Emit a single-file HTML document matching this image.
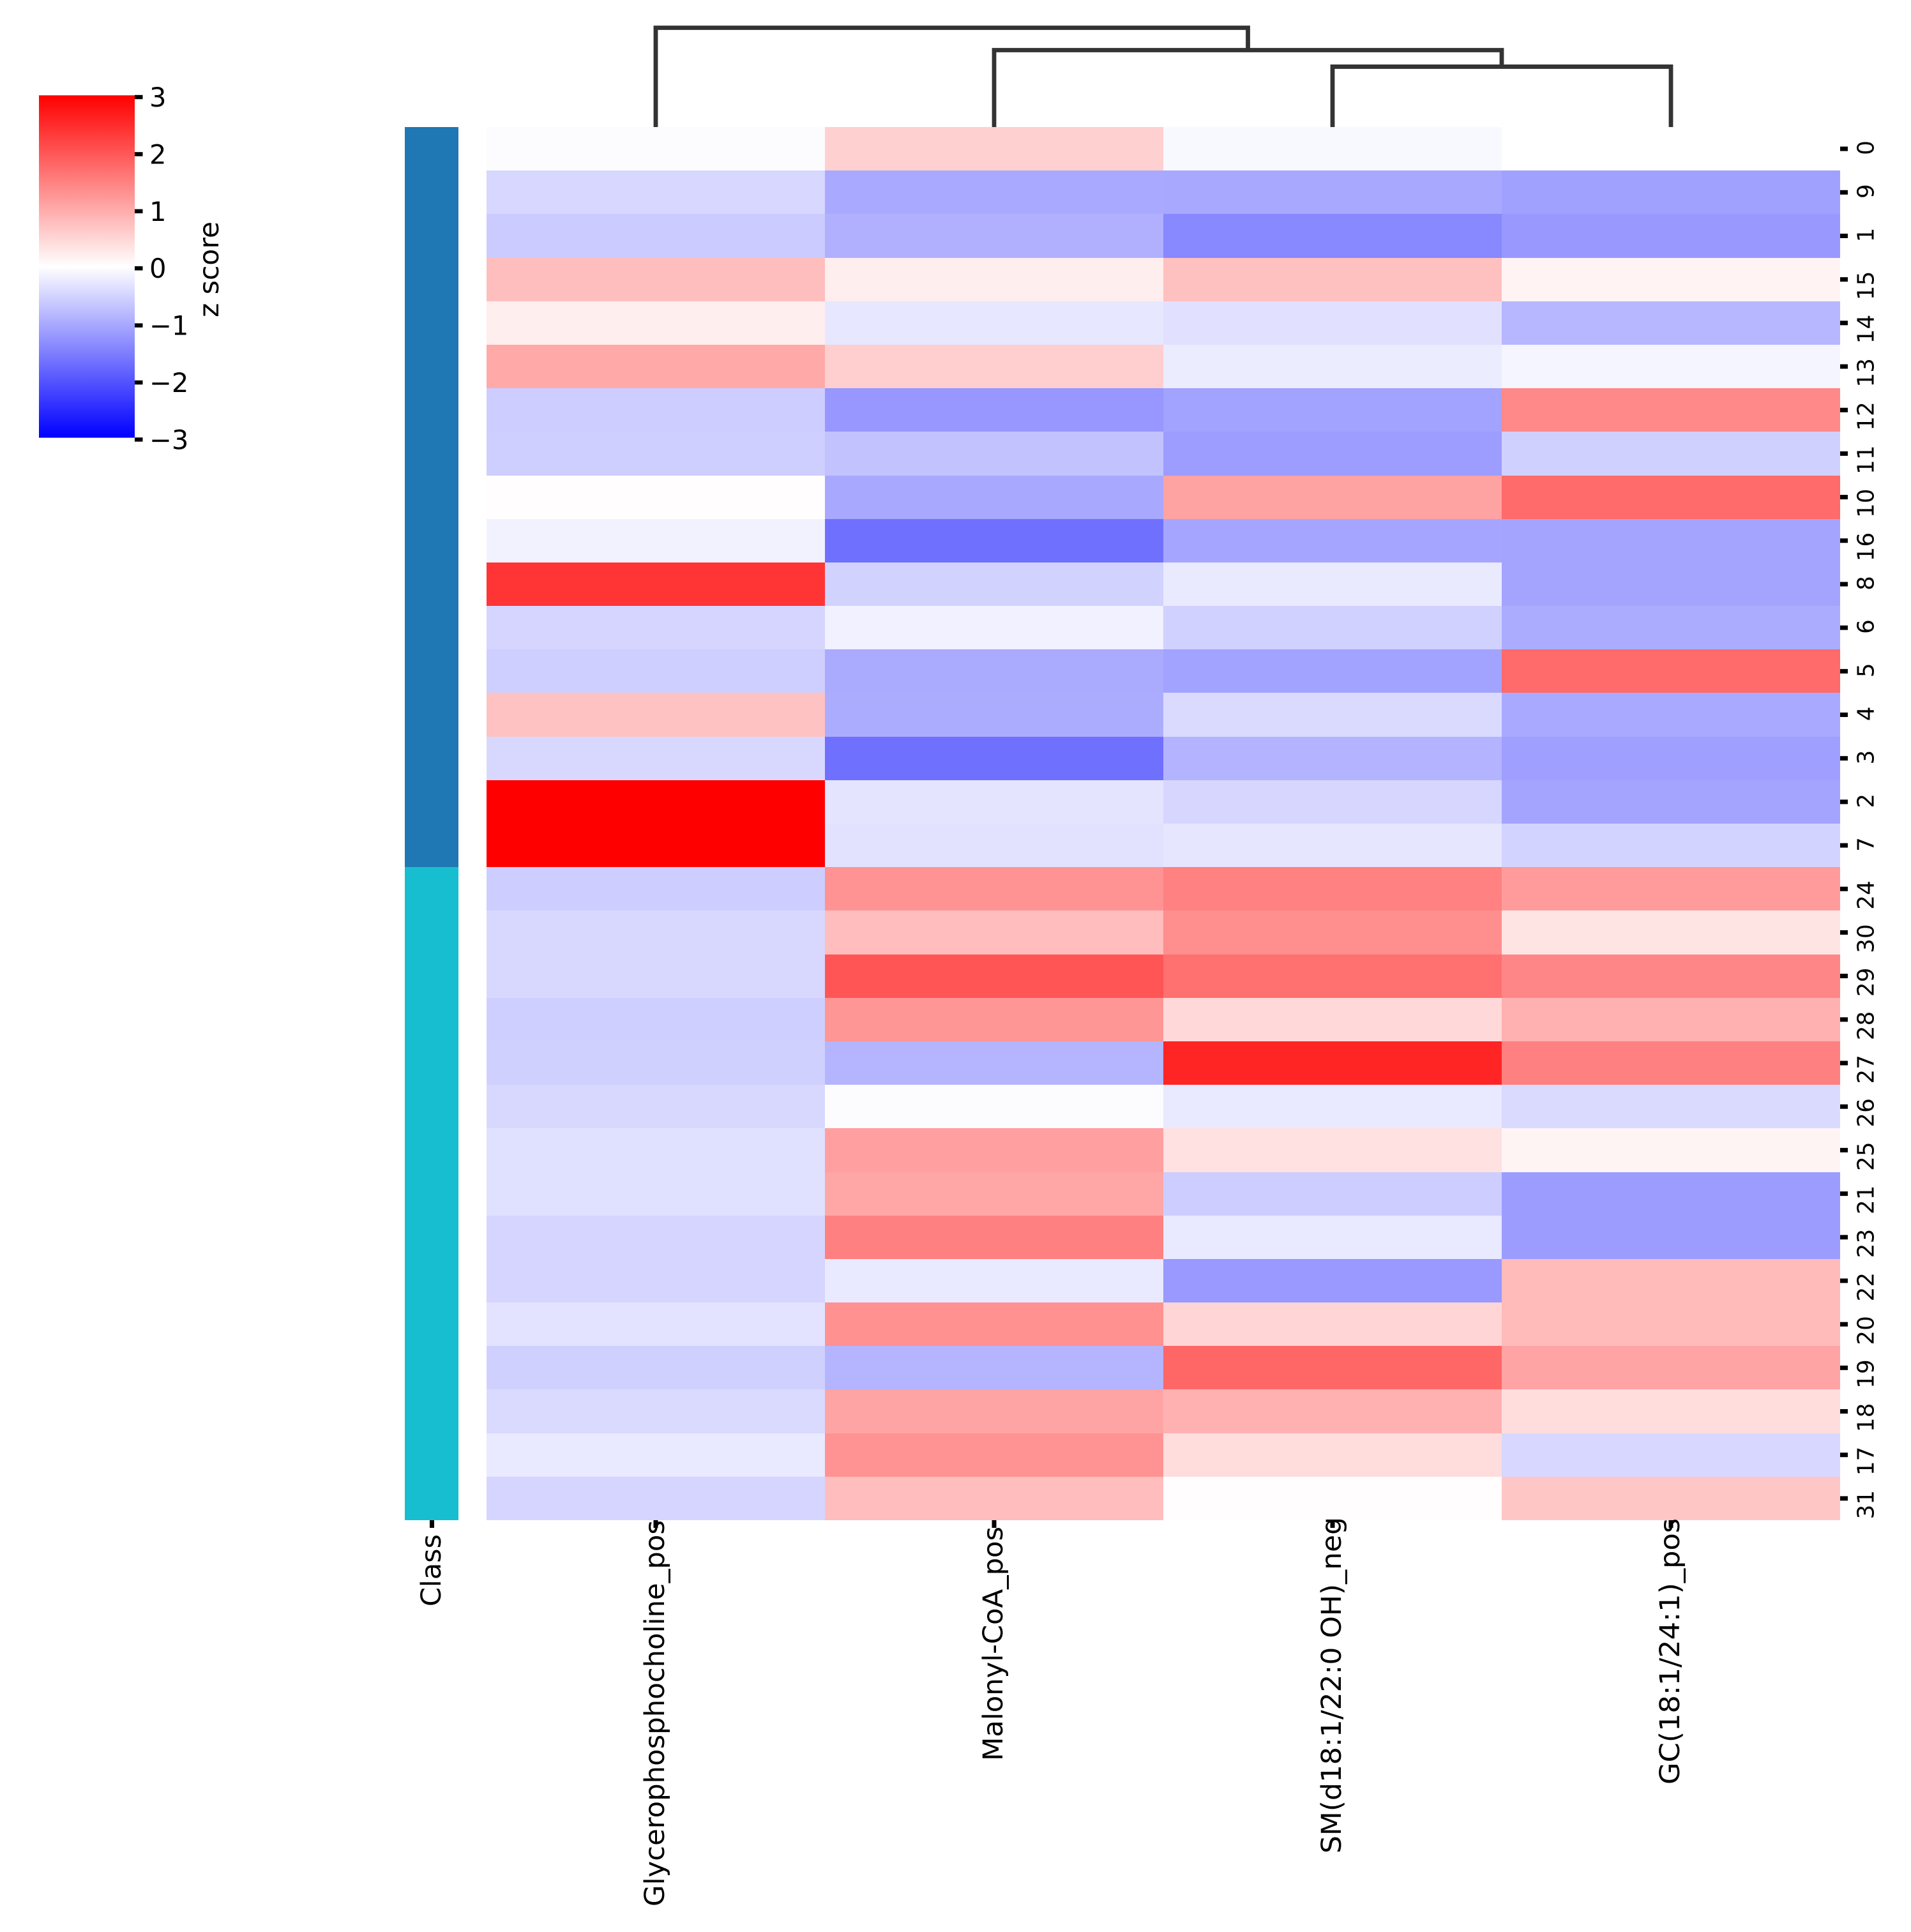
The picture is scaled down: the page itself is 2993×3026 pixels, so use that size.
<!DOCTYPE html>
<html lang="en">
<head>
<meta charset="utf-8">
<title>Clustered heatmap of z scores</title>
<style>
html,body{margin:0;padding:0;background:#fff;}
svg{display:block;}
text{font-family:"DejaVu Sans","Liberation Sans",sans-serif;fill:#000;}
</style>
</head>
<body>
<svg id="chart" xmlns="http://www.w3.org/2000/svg" width="2993" height="3026" viewBox="0 0 2993 3026">
<defs>
<linearGradient id="bwr" x1="0" y1="0" x2="0" y2="1">
<stop offset="0" stop-color="#ff0000"/>
<stop offset="0.5" stop-color="#ffffff"/>
<stop offset="1" stop-color="#0000ff"/>
</linearGradient>
</defs>
</svg>
<script>
const rowLabels = ["0","9","1","15","14","13","12","11","10","16","8","6","5","4","3","2","7","24","30","29","28","27","26","25","21","23","22","20","19","18","17","31"];
const columnLabels = ["Glycerophosphocholine_pos","Malonyl-CoA_pos","SM(d18:1/22:0 OH)_neg","GC(18:1/24:1)_pos"];
const classValues = [0,0,0,0,0,0,0,0,0,0,0,0,0,0,0,0,0,1,1,1,1,1,1,1,1,1,1,1,1,1,1,1];
const classColors = ["#1f77b4","#17becf"];
const glyceroValues = [-0.04,-0.47,-0.61,0.76,0.2,1.01,-0.59,-0.58,0.02,-0.15,2.38,-0.49,-0.58,0.72,-0.46,3,3,-0.59,-0.46,-0.46,-0.56,-0.55,-0.46,-0.36,-0.36,-0.5,-0.5,-0.33,-0.55,-0.44,-0.26,-0.5];
const malonylValues = [0.55,-1.01,-0.93,0.2,-0.28,0.58,-1.22,-0.72,-1.02,-1.68,-0.53,-0.17,-1.0,-0.98,-1.68,-0.32,-0.34,1.27,0.78,2.0,1.24,-0.88,-0.04,1.13,1.05,1.5,-0.26,1.3,-0.88,1.07,1.27,0.78];
const smValues = [-0.08,-1.02,-1.4,0.74,-0.35,-0.22,-1.09,-1.15,1.09,-1.06,-0.25,-0.54,-1.1,-0.44,-0.89,-0.48,-0.3,1.48,1.33,1.68,0.45,2.56,-0.26,0.35,-0.59,-0.26,-1.2,0.5,1.8,0.92,0.4,0.02];
const gcValues = [0.0,-1.12,-1.21,0.14,-0.85,-0.12,1.4,-0.55,1.75,-1.07,-1.07,-0.98,1.75,-1.01,-1.13,-1.07,-0.52,1.18,0.32,1.42,0.93,1.5,-0.44,0.13,-1.17,-1.17,0.81,0.81,1.07,0.4,-0.47,0.67];
const colorbarTicks = [3,2,1,0,-1,-2,-3];
const dendrogramHeights = [0.608,0.775,1.0];

const series = [glyceroValues, malonylValues, smValues, gcValues];
const svg = document.getElementById('chart');
const NS = 'http://www.w3.org/2000/svg';

const plot = {left:762, right:2882, top:199, bottom:2381};
const vmin = -3, vmax = 3;
const colW = (plot.right - plot.left) / columnLabels.length;
const rowH = (plot.bottom - plot.top) / rowLabels.length;
const xEdge = function(c){ return Math.round(plot.left + c * colW); };
const xCenter = function(c){ return plot.left + (c + 0.5) * colW; };
const yEdge = function(r){ return Math.round(plot.top + r * rowH); };
const yCenter = function(r){ return plot.top + (r + 0.5) * rowH; };
const cbarY = function(v){ return 420.2 - v * 89.4; };
const dendY = function(h){ return plot.top - h * 155.5; };
const columnLabelEnds = [2381,2391,2376,2378];
const columnLabelLengths = [605,367,527,417];

function cellColor(v){
  const t = Math.max(vmin, Math.min(vmax, v));
  if (t >= 0) {
    const g = Math.round(255 * (1 - t / vmax));
    return 'rgb(255,' + g + ',' + g + ')';
  }
  const b = Math.round(255 * (1 - t / vmin));
  return 'rgb(' + b + ',' + b + ',255)';
}
function el(tag, attrs, parent){
  const e = document.createElementNS(NS, tag);
  for (const k in attrs) e.setAttribute(k, attrs[k]);
  (parent || svg).appendChild(e);
  return e;
}
function group(name){
  const g = el('g', {});
  
  
  return g;
}

/* heatmap cells */
const heatmap = group('heatmap-cells');
series.forEach(function(values, c){
  values.forEach(function(v, r){
    const cell = el('rect', {x:xEdge(c), y:yEdge(r), width:xEdge(c+1)-xEdge(c), height:yEdge(r+1)-yEdge(r), fill:cellColor(v), 'shape-rendering':'crispEdges'}, heatmap);
    
    
  });
});

/* class colour bar */
const classBar = group('class-color-bar');
classValues.forEach(function(k, r){
  const cell = el('rect', {x:634, y:yEdge(r), width:84, height:yEdge(r+1)-yEdge(r), fill:classColors[k], 'shape-rendering':'crispEdges'}, classBar);
  
  
});
const classTick = el('rect', {x:673, y:plot.bottom, width:7, height:12, fill:'#000'}, classBar);


const classLabel = el('text', {transform:'translate(690,2403) rotate(-90)', 'text-anchor':'end', 'font-size':43}, classBar);
classLabel.textContent = 'Class';



/* row ticks and labels */
const rowAxis = group('row-axis');
rowLabels.forEach(function(label, r){
  const y = yCenter(r);
  const tick = el('rect', {x:plot.right, y:y-3.5, width:12, height:7, fill:'#000'}, rowAxis);
  
  
  const t = el('text', {transform:'translate(2934.5,' + (y-13) + ') rotate(-90)', 'text-anchor':'end', 'font-size':35.7}, rowAxis);
  t.textContent = label;
  
  
});

/* column ticks and labels */
const columnAxis = group('column-axis');
columnLabels.forEach(function(label, c){
  const x = xCenter(c);
  const tick = el('rect', {x:x-3.5, y:plot.bottom, width:7, height:12, fill:'#000'}, columnAxis);
  
  
  const t = el('text', {transform:'translate(' + (x+13) + ',' + columnLabelEnds[c] + ') rotate(-90)', 'text-anchor':'end', 'font-size':43, textLength:columnLabelLengths[c], lengthAdjust:'spacingAndGlyphs'}, columnAxis);
  t.textContent = label;
  
  
});

/* column dendrogram */
const dendrogram = group('column-dendrogram');
function link(x1, y1, x2, y2, h){
  const top = dendY(h);
  const p = el('path', {d:'M' + x1 + ' ' + y1 + 'V' + top + 'H' + x2 + 'V' + y2, fill:'none', stroke:'#333333', 'stroke-width':6.8, 'stroke-linejoin':'miter', 'stroke-linecap':'butt'}, dendrogram);
  
  
}
const node1x = (xCenter(2) + xCenter(3)) / 2;
link(xCenter(2), plot.top, xCenter(3), plot.top, dendrogramHeights[0]);
const node2x = (xCenter(1) + node1x) / 2;
link(xCenter(1), plot.top, node1x, dendY(dendrogramHeights[0]), dendrogramHeights[1]);
link(xCenter(0), plot.top, node2x, dendY(dendrogramHeights[1]), dendrogramHeights[2]);

/* colour bar */
const colorbar = group('colorbar');
const cbarRect = el('rect', {x:61, y:149.3, width:150, height:536.3, fill:'url(#bwr)'}, colorbar);


colorbarTicks.forEach(function(v){
  const y = cbarY(v);
  const tick = el('rect', {x:211, y:y-3.2, width:12.5, height:6.5, fill:'#000'}, colorbar);
  
  
  const t = el('text', {x:234, y:y+15, 'font-size':41.67}, colorbar);
  t.textContent = (v < 0 ? '\u2212' + Math.abs(v) : String(v));
  
  
});
const cbarTitle = el('text', {transform:'translate(342,422) rotate(-90)', 'text-anchor':'middle', 'font-size':42.5}, colorbar);
cbarTitle.textContent = 'z score';


</script>
</body>
</html>
